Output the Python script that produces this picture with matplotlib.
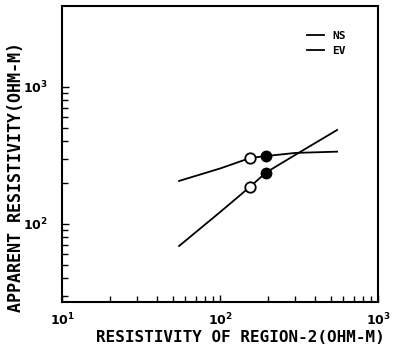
import matplotlib
matplotlib.use('Agg')
import matplotlib.pyplot as plt
from matplotlib.ticker import FixedLocator, NullFormatter

plt.rcParams['font.family'] = 'DejaVu Sans Mono'
plt.rcParams['font.weight'] = 'bold'
plt.rcParams['mathtext.default'] = 'bf'

# data
rho2 = [55, 100, 155, 195, 300, 550]
ns = [206, 254, 303, 313, 330, 337]
ev = [69, 122, 187, 237, 320, 485]
open_idx = 2   # open circles
fill_idx = 3   # filled circles
xticks = [10, 100, 1000]
xticklabels = ['$10^{1}$', '$10^{2}$', '$10^{3}$']
yticks = [100, 1000]
yticklabels = ['$10^{2}$', '$10^{3}$']

fig = plt.figure(figsize=(3.98, 3.53), dpi=100)
ax = fig.add_axes([0.156, 0.145, 0.794, 0.838])

ax.plot(rho2, ns, color='black', lw=1.3, label='NS')
ax.plot(rho2, ev, color='black', lw=1.3, label='EV')
for s in (ns, ev):
    ax.plot(rho2[open_idx], s[open_idx], 'o', ms=7.5, mfc='white', mec='black', mew=1.3)
    ax.plot(rho2[fill_idx], s[fill_idx], 'o', ms=7.5, mfc='black', mec='black')

ax.set_xscale('log')
ax.set_yscale('log')
ax.set_xlim(10, 1000)
ax.set_ylim(27, 3900)

ax.xaxis.set_major_locator(FixedLocator(xticks))
ax.set_xticklabels(xticklabels)
ax.xaxis.set_minor_locator(FixedLocator([k * 10 for k in range(2, 10)] + [k * 100 for k in range(2, 10)]))
ax.xaxis.set_minor_formatter(NullFormatter())
ax.yaxis.set_major_locator(FixedLocator(yticks))
ax.set_yticklabels(yticklabels)
ax.yaxis.set_minor_locator(FixedLocator([k * 10 for k in range(3, 10)] + [k * 100 for k in range(2, 10)]))
ax.yaxis.set_minor_formatter(NullFormatter())

ax.tick_params(which='both', direction='in', top=False, right=False, width=1.0, labelsize=9)
ax.tick_params(which='major', length=5)
ax.tick_params(which='minor', length=4)
ax.tick_params(axis='x', pad=7)
ax.tick_params(axis='y', pad=10)
for sp in ax.spines.values():
    sp.set_linewidth(1.5)

leg = ax.legend(loc='upper right', bbox_to_anchor=(0.93, 0.95), frameon=False,
                handlelength=1.5, handletextpad=0.8, labelspacing=0.5,
                prop={'size': 8, 'weight': 'bold'})

fig.text(0.605, 0.043, 'RESISTIVITY OF REGION-2(OHM-M)', ha='center', va='center',
         fontsize=11.5, fontweight='bold')
fig.text(0.04, 0.5, 'APPARENT RESISTIVITY(OHM-M)', ha='center', va='center',
         rotation=90, fontsize=12, fontweight='bold')

fig.savefig('out.png', dpi=100)
